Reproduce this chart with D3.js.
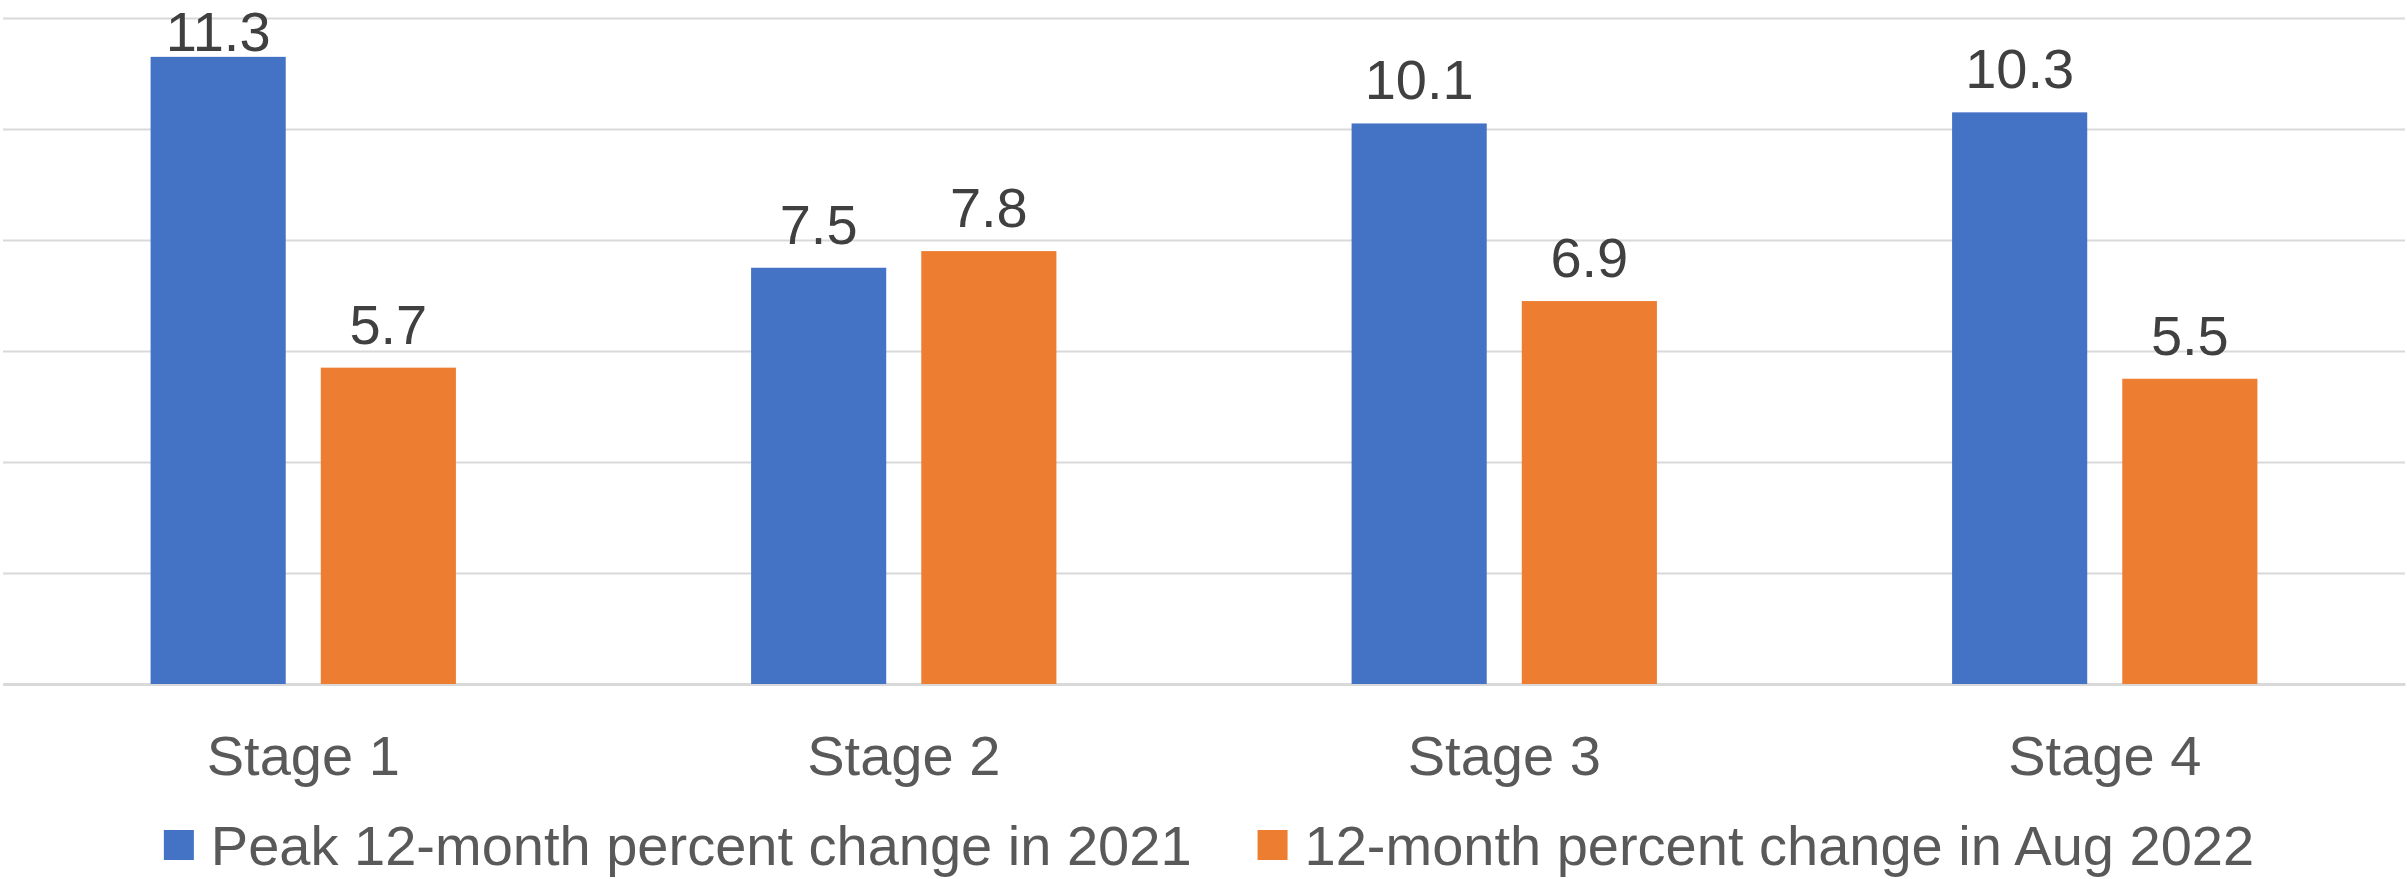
<!DOCTYPE html>
<html>
<head>
<meta charset="utf-8">
<script src="https://cdn.jsdelivr.net/npm/d3@7"></script>
<style>
  html, body { margin: 0; padding: 0; background: #ffffff; }
  svg { display: block; }
</style>
</head>
<body>
<svg id="chart" width="2407" height="879"></svg>
<script>
// Categories, series and values
const stages = ["Stage 1", "Stage 2", "Stage 3", "Stage 4"];
const seriesNames = ["Peak 12-month percent change in 2021", "12-month percent change in Aug 2022"];
const peak2021 = [11.3, 7.5, 10.1, 10.3];
const aug2022 = [5.7, 7.8, 6.9, 5.5];
const yTicks = [0, 2, 4, 6, 8, 10, 12];
const seriesColors = ["#4472C4", "#ED7D31"];

const width = 2407, height = 879;
const plot = { left: 3, right: 2405, top: 18, bottom: 684 };
const fontFamily = "'Liberation Sans', Arial, sans-serif";

const svg = d3.select("#chart");
svg.append("rect").attr("width", width).attr("height", height).attr("fill", "#ffffff");

const x0 = d3.scaleBand().domain(stages).range([plot.left, plot.right]).padding(0);
// bar group inside each category band: two bars with a small gap between them
const groupPad = 0.2458;
const x1 = d3.scaleBand()
  .domain(seriesNames)
  .range([x0.bandwidth() * groupPad, x0.bandwidth() * (1 - groupPad)])
  .paddingInner(0.206)
  .paddingOuter(0);

const y = d3.scaleLinear().domain([0, 12]).range([plot.bottom, plot.top]);

// horizontal gridlines
const yAxis = d3.axisLeft(y).tickValues(yTicks).tickSize(-(plot.right - plot.left)).tickFormat("");
const gy = svg.append("g").attr("transform", `translate(${plot.left},0)`).call(yAxis);
gy.select(".domain").remove();
gy.selectAll(".tick line").attr("stroke", "#d9d9d9").attr("stroke-width", 2);

// category axis
const xAxis = d3.axisBottom(x0).tickSize(0).tickPadding(0);
const gx = svg.append("g").attr("transform", `translate(0,${plot.bottom})`).call(xAxis);
gx.select(".domain").attr("stroke", "#d9d9d9").attr("stroke-width", 3);
gx.selectAll(".tick text")
  .attr("y", 91).attr("dy", null)
  .attr("fill", "#595959")
  .style("font-family", fontFamily)
  .style("font-size", "56px");

// bars
const rows = stages.map((s, i) => ({ stage: s, values: [peak2021[i], aug2022[i]] }));
const groups = svg.append("g").selectAll("g").data(rows).join("g")
  .attr("transform", d => `translate(${x0(d.stage)},0)`);

groups.selectAll("rect")
  .data(d => d.values.map((v, k) => ({ name: seriesNames[k], value: v, k })))
  .join("rect")
  .attr("x", d => x1(d.name))
  .attr("width", x1.bandwidth())
  .attr("y", d => y(d.value))
  .attr("height", d => y(0) - y(d.value))
  .attr("fill", d => seriesColors[d.k]);

// value labels, kept inside the top of the chart area
groups.selectAll("text.val")
  .data(d => d.values.map((v, k) => ({ name: seriesNames[k], value: v, k })))
  .join("text")
  .attr("class", "val")
  .attr("x", d => x1(d.name) + x1.bandwidth() / 2)
  .attr("y", d => Math.max(y(d.value) - 24, 51))
  .attr("text-anchor", "middle")
  .attr("fill", "#404040")
  .style("font-family", fontFamily)
  .style("font-size", "56px")
  .text(d => d.value.toFixed(1));

// legend
const legend = svg.append("g");
const items = legend.selectAll("g").data(seriesNames).join("g");
items.append("rect")
  .attr("width", 30).attr("height", 30)
  .attr("y", 830)
  .attr("fill", (d, i) => seriesColors[i]);
items.append("text")
  .attr("x", 47).attr("y", 865)
  .attr("fill", "#595959")
  .style("font-family", fontFamily)
  .style("font-size", "56px")
  .text(d => d);

let offset = 0;
const itemGap = 66;
const widths = [];
items.each(function () {
  const w = 47 + d3.select(this).select("text").node().getComputedTextLength();
  widths.push(w);
});
const total = d3.sum(widths) + itemGap * (widths.length - 1);
const startX = 1209 - total / 2;
items.attr("transform", (d, i) => {
  const t = `translate(${startX + offset},0)`;
  offset += widths[i] + itemGap;
  return t;
});
</script>
</body>
</html>
